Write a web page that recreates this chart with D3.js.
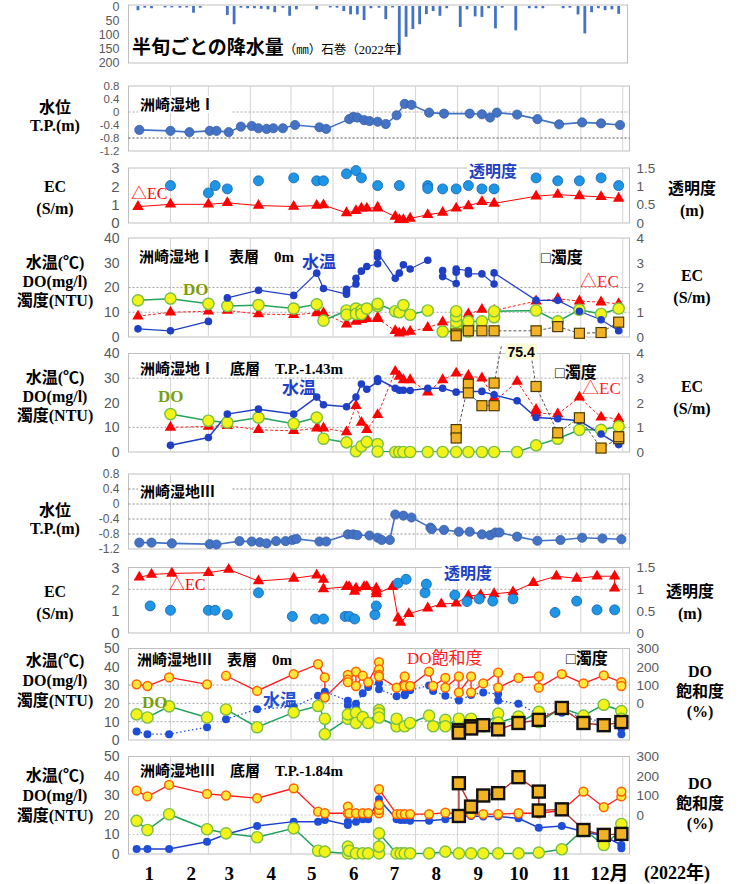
<!DOCTYPE html>
<html><head><meta charset="utf-8">
<script src="https://cdn.jsdelivr.net/npm/d3@7"></script>
<style>body{margin:0;background:#fff}</style>
</head><body>
<svg id="c" width="743" height="884"></svg>
<script>
// ---------- data (2022) ----------
// semi-monthly-ish (半旬, 72 per year) precipitation at Ishinomaki, mm
const rainfall = [0,15,6,8,0,5, 5,6,5,24,6,0, 0,0,32,65,6,8, 8,10,12,22,6,35,
  12,0,0,12,0,5, 6,18,30,30,50,8, 6,47,5,175,110,82, 65,29,18,35,8,0,
  75,12,37,39,8,80, 6,0,87,0,8,8, 8,0,0,8,6,30, 98,22,8,15,12,28];
const rainTicks = [0,50,100,150,200];

// site I
const level1 = [["01-09",-0.55],["02-01",-0.58],["02-15",-0.62],["03-02",-0.58],["03-07",-0.58],["03-16",-0.62],
  ["03-25",-0.45],["04-02",-0.43],["04-07",-0.50],["04-13",-0.52],["04-18",-0.50],["04-25",-0.50],["05-04",-0.40],
  ["05-22",-0.47],["05-27",-0.52],["06-13",-0.22],["06-16",-0.15],["06-19",-0.17],["06-24",-0.25],["06-28",-0.28],
  ["07-04",-0.30],["07-10",-0.37],["07-18",-0.10],["07-24",0.25],["07-29",0.22],["08-11",-0.02],["08-22",-0.05],
  ["09-10",-0.05],["09-19",-0.07],["09-25",-0.17],["09-30",-0.02],["10-15",-0.08],["10-30",-0.22],["11-15",-0.38],
  ["12-02",-0.32],["12-16",-0.35],["12-30",-0.40]];
const ec1 = [["01-08",0.89],["02-01",1.02],["03-01",1.02],["03-15",1.1],["04-07",0.95],["05-03",0.9],["05-20",0.95],
  ["05-25",0.98],["06-11",0.55],["06-18",0.67],["06-22",0.8],["06-26",0.8],["07-04",0.85],["07-04",0.8],["07-17",0.35],
  ["07-20",0.18],["07-23",0.18],["07-28",0.25],["08-10",0.45],["08-21",0.57],["08-31",0.8],["09-09",0.93],["09-19",1.16],
  ["09-28",1.07],["10-29",1.46],["11-14",1.55],["11-30",1.48],["12-16",1.43],["12-29",1.34]];
const transp1 = [["02-01",1.02],["03-01",0.82],["03-06",1.02],["03-15",0.93],["04-07",1.15],["05-03",1.23],["05-20",1.15],
  ["05-25",1.15],["06-11",1.34],["06-18",1.43],["06-22",1.23],["07-04",1.02],["07-20",1.02],["08-10",1.02],["08-10",0.94],
  ["08-21",0.93],["08-31",0.93],["09-09",1.02],["09-19",0.93],["09-28",0.93],["10-29",1.23],["11-14",1.15],["11-30",1.15],
  ["12-16",1.23],["12-29",1.02]];

const temp1s = [["01-08",3.3],["02-01",2.5],["03-01",6.3],null,["03-15",15.8],["04-07",18.9],["05-03",16.8],["05-20",25.8],
  ["05-25",19.6],["06-11",17.3],["06-11",18.4],["06-11",19.3],["06-18",21.4],["06-18",23.7],["06-22",26.6],["06-26",28.5],
  ["07-04",29.6],["07-04",32.3],["07-04",34],["07-17",23.7],["07-20",25.8],["07-23",29.2],["07-28",27.5],["08-10",31],null,
  ["08-21",26.8],["08-21",24.4],["08-31",21.6],["08-31",26.2],["08-31",27.5],["09-09",26.8],["09-09",25.5],["09-19",25.5],
  ["09-28",21.4],["09-28",25.9],["10-29",14.8],["11-14",14.8],["11-30",10.4],["12-16",7],["12-29",2.5]];
const do1s = [["01-08",14.8],["02-01",15.5],["03-01",13.4],null,["03-15",12.5],["04-07",12.9],["05-03",11.5],["05-20",13.2],
  ["05-25",6.6],["06-11",10.7],["06-11",9.0],["06-18",11.5],["06-18",9.3],["06-22",10.7],["06-22",9.3],["06-26",11.5],
  ["07-04",12.5],["07-04",13.4],["07-17",10.4],["07-20",10],["07-23",12.9],["07-28",9],["08-10",10.7],null,["08-21",2.2],
  ["08-31",2.2],["08-31",3.6],["08-31",6],["08-31",8.4],["08-31",10.4],["09-09",2.2],["09-09",3.2],["09-09",4.5],["09-09",6.3],
  ["09-19",6.3],["09-28",8],["09-28",10.4],["10-29",10.7],["11-14",6.3],["11-30",11],["12-16",9.3],["12-29",11.5]];
const ec1s = [["01-08",0.84],["02-01",1.0],["03-01",1.04],null,["03-15",1.07],["04-07",0.93],["05-03",0.9],["05-20",0.97],
  ["05-25",0.97],["06-11",0.52],["06-18",0.63],["06-22",0.7],["06-26",0.74],["07-04",0.79],["07-04",0.74],["07-17",0.25],
  ["07-20",0.15],["07-23",0.19],["07-28",0.22],["08-10",0.38],["08-21",0.6],["08-31",0.6],["08-31",0.74],["08-31",0.9],
  ["09-09",0.93],["09-19",1.11],["09-28",1.07],["10-29",1.45],["11-14",1.55],["11-30",1.45],["12-16",1.41],["12-29",1.34]];
const turb1s = [["08-31",1.2],["08-31",0.5],["09-09",2.5],["09-19",2.5],["09-28",2.5],["10-29",2.5],["11-14",4.2],
  ["11-30",1.5],["12-16",1.8],["12-29",6.0]];

const temp1b = [["02-01",2.7],["03-01",5.9],["03-15",15.4],["04-07",17.4],["05-03",15.4],["05-20",22.3],["05-25",19.2],
  ["06-11",18.4],["06-18",22.3],["06-22",27.6],["06-26",25.5],["07-04",28.6],["07-04",29.7],["07-17",25.9],["07-20",25.1],
  ["07-23",25.1],["07-28",25],["08-10",25.9],["08-21",25.9],["08-31",24.3],["09-09",24.6],["09-19",24.6],["09-28",23.2],
  ["10-15",20.8],["10-29",14],["11-14",13.5],["11-30",12.7],["12-16",7.3],["12-29",3]];
const do1b = [["02-01",15.4],["03-01",12.7],["03-15",12],["04-07",14],["05-03",11.5],["05-20",14],["05-25",5.4],
  ["06-11",3.9],["06-18",0.3],["06-22",2.3],["06-26",4.1],["07-04",3.2],["07-04",0.2],["07-17",0],["07-20",0],["07-23",0],
  ["07-28",0],["08-10",0],["08-21",0],["08-31",0],["09-09",0],["09-19",0],["09-28",0],["10-15",0],["10-29",2.7],
  ["11-14",5.4],["11-30",9],["12-16",9],["12-29",10.4]];
const ec1b = [["02-01",1.0],["03-01",1.04],["03-15",1.07],["04-07",0.9],["05-03",0.86],["05-20",0.97],["05-25",0.97],
  ["06-11",0.81],["06-18",1.88],["06-22",1.2],["06-26",0.9],["07-04",1.51],["07-17",3.27],["07-20",3.07],["07-23",2.93],
  ["07-28",2.93],["08-10",2.43],["08-21",2.93],["08-31",3.2],["09-09",3.1],["09-19",3.0],["09-28",2.19],["09-28",2.03],
  ["10-15",2.86],["10-29",1.72],["10-29",1.58],["11-14",1.54],["11-30",2.22],["12-16",1.41],["12-29",1.35]];
const turb1b = [["08-31",9.1],["08-31",5.7],["09-09",27.5],["09-09",24],["09-19",18.8],["09-28",18.8],["09-28",28],
  ["10-15",75.4],["10-29",26.6],["11-14",7.8],["11-30",13.9],["12-16",1.6],["12-29",5.4],["12-29",6.2]];

// site III
const level3 = [["01-09",-1.03],["01-18",-1.03],["02-02",-1.05],["03-02",-1.07],["03-07",-1.08],["03-24",-0.99],
  ["04-02",-1.0],["04-08",-1.02],["04-13",-1.05],["04-20",-0.99],["04-27",-0.99],["05-02",-0.96],["05-05",-0.93],
  ["05-22",-1.0],["05-27",-1.0],["06-12",-0.81],["06-16",-0.81],["06-19",-0.83],["06-28",-0.84],["07-04",-0.9],
  ["07-07",-0.96],["07-13",-0.96],["07-17",-0.28],["07-23",-0.31],["07-29",-0.36],["08-12",-0.63],["08-13",-0.67],
  ["08-22",-0.69],["09-02",-0.74],["09-10",-0.74],["09-19",-0.81],["09-25",-0.83],["09-29",-0.76],["10-02",-0.76],
  ["10-15",-0.87],["10-30",-0.98],["11-16",-0.96],["12-02",-0.9],["12-17",-0.92],["12-31",-0.94]];
const ec3 = [["01-09",2.55],["01-18",2.68],["02-02",2.73],["03-01",2.76],["03-16",2.91],["04-07",2.38],["05-03",2.5],
  ["05-20",2.65],["05-25",2.45],["05-25",2.02],["06-11",2.12],["06-13",2.12],["06-17",1.9],["06-18",2.05],["06-24",2.12],
  ["06-26",2.12],["07-03",2.05],["07-03",1.9],["07-03",1.79],["07-15",2.12],["07-19",0.68],["07-21",0.48],["07-27",0.88],
  ["08-10",1.14],["08-20",1.33],["08-31",1.36],["09-09",1.7],["09-18",1.74],["09-28",1.79],["10-12",1.88],["10-27",2.3],
  ["11-13",2.6],["11-28",2.5],["12-13",2.6],["12-26",2.6],["12-26",2.05]];
const transp3 = [["01-17",0.62],["02-01",0.52],["03-01",0.52],["03-06",0.52],["03-15",0.42],["04-07",0.92],["05-02",0.38],
  ["05-19",0.32],["05-25",0.32],["06-10",0.38],["06-13",0.38],["06-17",0.32],["07-02",0.42],["07-03",0.62],["07-19",1.14],
  ["07-25",1.23],["08-08",0.92],["08-09",1.12],["08-30",0.87],["09-08",0.72],["09-17",0.78],["09-27",0.73],["10-12",0.78],
  ["11-12",0.47],["11-28",0.73],["12-13",0.53],["12-26",0.53]];

const temp3s = [["01-07",4.6],["01-15",3.2],["01-31",3.2],["02-28",7],null,["03-14",11.4],["04-06",16.8],["05-03",18.1],
  ["05-21",24.2],["05-26",22.8],["05-26",26.4],["06-12",21.5],["06-12",19],["06-18",17.2],["06-18",19.8],["06-23",25.6],
  ["06-27",29],["07-05",31.2],["07-05",27.7],["07-18",23.9],["07-24",25],["07-24",24.5],["07-28",27.2],["08-11",29.8],
  ["08-14",26.8],["08-23",24.2],["09-02",21.6],["09-11",24.6],["09-20",26],["10-01",25.1],["10-01",21.6],["10-16",19.8],
  ["10-31",14],["11-17",14.9],["12-03",12.8],["12-18",9.3],["12-31",6.3],["12-31",3.2]];
const do3s = [["01-07",14],["01-15",12.3],["01-31",18.4],["02-28",12.3],null,["03-14",16.7],["04-06",7],["05-03",15.1],
  ["05-21",18.6],["05-26",11.6],["05-26",3.2],["06-12",11.6],["06-12",14],["06-18",14.9],["06-18",9.3],["06-23",12.5],
  ["06-27",9.3],["07-05",16.3],["07-05",14.6],["07-05",12.3],["07-18",7.5],["07-18",11.6],["07-24",7.5],["07-28",9.3],
  ["08-11",13.3],["08-14",7.5],["08-23",11],["08-23",7.5],["09-02",11.6],["09-02",6.3],["09-02",4.9],["09-11",11.6],
  ["09-11",6.3],["09-20",7.5],["10-01",14.4],["10-01",9.5],["10-16",12.8],["10-16",9.3],["10-31",15.4],["10-31",9.8],
  ["11-17",17.5],["12-03",13.3],["12-18",19.3],["12-31",15.8],["12-31",11.6]];
const sat3s = [["01-07",104],["01-15",95],["01-31",142],["02-28",104],null,["03-14",151],["04-06",68],["05-03",160],
  ["05-21",214],["05-26",142],["05-26",33],["06-12",156],["06-12",130],["06-12",116],["06-18",174],["06-18",95],
  ["06-23",151],["06-27",116],["07-05",226],["07-05",186],["07-05",156],["07-05",147],["07-18",86],["07-24",147],
  ["07-24",95],["07-28",95],["08-11",174],["08-14",95],["08-23",139],["08-23",86],["09-02",147],["09-02",60],["09-11",147],
  ["09-11",60],["09-20",109],["10-01",168],["10-01",86],["10-16",139],["10-31",147],["10-31",86],["11-17",160],
  ["12-03",109],["12-18",153],["12-31",116],["12-31",95]];
const turb3s = [["09-02",5.3],["09-02",4],["09-11",7.5],["09-11",6.3],["09-20",8.1],["10-01",5.8],["10-16",9.3],
  ["10-31",11],["11-17",17.5],["12-03",9.3],["12-18",8.1],["12-31",9.8]];

const temp3b = [["01-07",2.6],["01-15",2.6],["01-31",2.6],["02-28",6.3],["03-14",10.1],["04-06",14.4],["05-03",16.6],
  ["05-21",16.6],["05-26",17.5],["06-12",14.9],["06-12",16.6],["06-18",16.6],["06-23",17.8],["06-27",17.8],["07-05",28.1],
  ["07-18",17.8],["07-21",17.5],["07-24",17.5],["07-28",17],["08-11",17],["08-23",17.8],["09-02",19.2],["09-11",19.5],
  ["09-20",19.2],["10-01",19.2],["10-16",18.3],["10-31",13.5],["11-17",14.4],["12-03",11.5],["12-18",9.2],["12-31",4.6],
  ["12-31",2.9]];
const do3b = [["01-07",17],["01-15",12.3],["01-31",20.4],["02-28",12.7],["03-14",10.6],["04-06",8.6],["05-03",13.2],
  ["05-21",1.7],["05-26",1.2],["06-12",0.3],["06-12",3.8],["06-13",1.7],["06-18",0.3],["06-23",0.3],["06-27",0.3],
  ["07-05",0.3],["07-05",3.8],["07-05",10.6],["07-18",0.3],["07-21",0.3],["07-24",0.3],["07-28",0.3],["08-11",0.3],
  ["08-23",1.2],["09-02",0.3],["09-11",0.3],["09-20",0.3],["10-01",0.3],["10-16",0.3],["10-31",0.7],["11-17",2.4],
  ["12-03",12.7],["12-18",4.6],["12-31",12.3],["12-31",15.4]];
const sat3b = [["01-07",125],["01-15",95],["01-31",154],["02-28",108],["03-14",100],["04-06",86],["05-03",137],
  ["05-21",17],["05-26",9],["06-12",9],["06-12",43],["06-13",9],["06-18",9],["06-23",9],["06-27",9],["07-05",9],
  ["07-05",26],["07-05",52],["07-05",132],["07-18",5],["07-21",5],["07-24",5],["07-28",5],["08-11",5],["08-23",12],
  ["09-02",5],["09-11",5],["09-20",5],["10-01",5],["10-16",9],["10-31",9],["11-17",23],["12-03",120],["12-18",40],
  ["12-31",95],["12-31",120]];
const turb3b = [["09-02",19.5],["09-02",36.3],["09-11",24.3],["09-20",30],["10-01",31.2],["10-16",39.4],["10-31",32],
  ["10-31",22.3],["11-17",22.9],["12-03",12.3],["12-18",9.8],["12-31",10.3]];

const monthNames = ["1","2","3","4","5","6","7","8","9","10","11","12月"];

// ---------- drawing ----------
const SERIF = "'Liberation Serif','Noto Sans CJK JP',serif";
const SANS = "'Liberation Sans',Arial,'Noto Sans CJK JP',sans-serif";
const svg = d3.select("#c");
const parse = d3.timeParse("%Y-%m-%d");
const dt = md => parse("2022-" + md);
const X0 = 128.5, X1 = 629.5;
const LABX = 55;   // centre of the left-hand axis titles
const x = d3.scaleTime().domain([new Date(2022,0,1), new Date(2023,0,6)]).range([X0, X1]);
const monthStarts = d3.range(1,13).map(m => new Date(2022, m, 1));
let clipN = 0;

function styleAxis(sel, size){
  sel.select(".domain").remove();
  sel.selectAll(".tick line").remove();
  sel.selectAll("text").attr("font-family", SANS).attr("font-size", size).attr("fill", "#595959");
}

function makePanel(o){
  const y = d3.scaleLinear().domain(o.dom).range([o.bottom, o.top]);
  const g = svg.append("g");
  g.append("rect").attr("x", X0).attr("y", o.top).attr("width", X1 - X0).attr("height", o.bottom - o.top)
    .attr("fill", "#fff").attr("stroke", "#bfbfbf");
  g.selectAll(".vg").data(monthStarts).join("line").attr("x1", d => x(d)).attr("x2", d => x(d))
    .attr("y1", o.top).attr("y2", o.bottom).attr("stroke", "#d4d4d4");
  (o.hgrid || []).forEach(h => g.append("line").attr("x1", X0).attr("x2", X1).attr("y1", y(h[0])).attr("y2", y(h[0]))
      .attr("stroke", h[1] || "#a6a6a6").attr("stroke-dasharray", "2,2"));
  const ax = g.append("g").attr("transform", `translate(${X0 - 9},0)`)
    .call(d3.axisLeft(y).tickValues(o.ticks).tickSize(0).tickPadding(0).tickFormat(d => String(d)));
  styleAxis(ax, o.tickSize || 14);
  let y2 = null;
  if (o.dom2){
    y2 = d3.scaleLinear().domain(o.dom2).range([o.bottom, o.top]);
    const ar = g.append("g").attr("transform", `translate(${X1 + 7},0)`)
      .call(d3.axisRight(y2).tickValues(o.ticks2).tickSize(0).tickPadding(0).tickFormat(d => String(d)));
    styleAxis(ar, o.tickSize2 || 14);
  }
  const id = "clip" + (clipN++);
  svg.append("clipPath").attr("id", id).append("rect").attr("x", X0).attr("y", o.top - 8)
    .attr("width", X1 - X0).attr("height", o.bottom - o.top + 8);
  const lines = svg.append("g").attr("clip-path", `url(#${id})`);
  const marks = svg.append("g");
  const labels = svg.append("g");
  return {g, y, y2, lines, marks, labels, top: o.top, bottom: o.bottom, dom: o.dom};
}

function drawLine(p, data, ys, st){
  const ln = d3.line().defined(d => d != null).x(d => x(dt(d[0]))).y(d => ys(d[1]));
  p.lines.append("path").datum(data).attr("d", ln).attr("fill", "none")
    .attr("stroke", st.stroke).attr("stroke-width", st.width || 1.2)
    .attr("stroke-dasharray", st.dash || null);
}
function inRange(p, ys, d){ const v = ys(d[1]); return v >= p.top - 1 && v <= p.bottom + 1; }
function drawDots(p, data, ys, st){
  p.marks.selectAll(null).data(data.filter(d => d && inRange(p, ys, d))).join("circle")
    .attr("cx", d => x(dt(d[0]))).attr("cy", d => ys(d[1])).attr("r", st.r)
    .attr("fill", st.fill).attr("stroke", st.stroke || "none").attr("stroke-width", st.sw || 1);
}
function drawTri(p, data, ys){
  const sym = d3.symbol().type(d3.symbolTriangle).size(56);
  p.marks.selectAll(null).data(data.filter(d => d && inRange(p, ys, d))).join("path")
    .attr("d", sym).attr("transform", d => `translate(${x(dt(d[0]))},${ys(d[1])})`).attr("fill", "#ff0000");
}
function drawSq(p, data, ys, st){
  p.marks.selectAll(null).data(data.filter(d => d && inRange(p, ys, d))).join("rect")
    .attr("x", d => x(dt(d[0])) - st.s/2).attr("y", d => ys(d[1]) - st.s/2).attr("width", st.s).attr("height", st.s)
    .attr("fill", "#f2b224").attr("stroke", st.stroke).attr("stroke-width", st.sw);
}
function txt(sel, s, xx, yy, o){
  return sel.append("text").attr("x", xx).attr("y", yy).text(s)
    .attr("font-family", o.family || SERIF).attr("font-size", o.size || 16)
    .attr("fill", o.fill || "#000").attr("font-weight", o.weight || "normal")
    .attr("text-anchor", o.anchor || "start");
}
function boxText(sel, s, xx, yy, o){
  const t = txt(sel, s, xx, yy, o);
  const b = t.node().getBBox();
  sel.insert("rect", () => t.node()).attr("x", b.x - 2).attr("y", b.y).attr("width", b.width + 4 + (o.extra || 0))
    .attr("height", b.height).attr("fill", o.bg || "#fff");
  return t;
}
function sideLabel(lines, xx, y0, dy, size){
  lines.forEach((s, i) => txt(svg, s, xx, y0 + i * dy, {size: size || 16, weight: "bold", anchor: "middle"}));
}

// marker styles
const DOT_DO = {r: 5.6, fill: "#f3f31a", stroke: "#78c043", sw: 1.4};
const DOT_SAT = {r: 4.4, fill: "#ffe83a", stroke: "#ff6000", sw: 1.5};
const DOT_T1 = {r: 3.8, fill: "#1f3fc6"};
const DOT_TR = {r: 5, fill: "#1e96e6", stroke: "#1960b0", sw: 0.8};
const DOT_LV = {r: 4.6, fill: "#4472c4", stroke: "#3a62aa", sw: 0.8};

// ---- rainfall ----
{
  const top = 6, bottom = 62;
  const y = d3.scaleLinear().domain([0, 200]).range([top, bottom]);
  svg.append("rect").attr("x", X0).attr("y", top - 1).attr("width", X1 - 2 - X0).attr("height", bottom - top + 2)
    .attr("fill", "#fff").attr("stroke", "#bfbfbf");
  const ax = svg.append("g").attr("transform", `translate(${X0 - 9},0)`)
    .call(d3.axisLeft(y).tickValues(rainTicks).tickSize(0).tickPadding(0));
  styleAxis(ax, 12.5);
  const step = 365 / 72;
  svg.append("g").selectAll("rect").data(rainfall).join("rect")
    .attr("x", (d, i) => x(new Date(2022, 0, 1 + i * step + step / 2)) - 1.4).attr("width", 2.8)
    .attr("y", y(0)).attr("height", d => y(Math.min(d, 200)) - y(0)).attr("fill", "#4472c4");
  const t = svg.append("text").attr("x", 132).attr("y", 54).attr("font-family", SERIF);
  t.append("tspan").text("半旬ごとの降水量").attr("font-size", 19).attr("font-weight", "bold");
  t.append("tspan").text("（㎜）石巻（2022年）").attr("font-size", 12.5);
}

// ---- site I water level ----
{
  const p = makePanel({top: 86, bottom: 151, dom: [-1.2, 0.8], ticks: [0.8,0.4,0,-0.4,-0.8,-1.2], tickSize: 11.5,
    hgrid: [[0], [-0.8, "#555"]]});
  boxText(p.labels, "洲崎湿地Ⅰ", 140, 110, {size: 15, weight: "bold", extra: 14});
  drawLine(p, level1, p.y, {stroke: "#4472c4", width: 1.6});
  drawDots(p, level1, p.y, DOT_LV);
  sideLabel(["水位", "T.P.(m)"], LABX, 113, 18, 16);
}
// ---- site I EC / transparency ----
{
  const p = makePanel({top: 168, bottom: 223, dom: [0, 3], ticks: [3,2,1,0], tickSize: 15,
    dom2: [0, 1.5], ticks2: [1.5, 1, 0.5, 0], tickSize2: 13.5});
  boxText(p.labels, "透明度", 469, 177, {size: 16, weight: "bold", fill: "#2040c0"});
  txt(p.labels, "△EC", 131, 199, {size: 16, fill: "#ff0000"});
  drawLine(p, ec1, p.y, {stroke: "#ff0000", width: 1});
  drawTri(p, ec1, p.y);
  drawDots(p, transp1, p.y2, DOT_TR);
  sideLabel(["EC", "(S/m)"], LABX, 192, 22, 16);
  sideLabel(["透明度", "(m)"], 692, 194, 22, 16);
}
// ---- site I surface ----
{
  const p = makePanel({top: 238, bottom: 337, dom: [0, 40], ticks: [40,30,20,10,0], tickSize: 14,
    dom2: [0, 4], ticks2: [4,3,2,1,0], tickSize2: 13.5, hgrid: [[20], [10]]});
  txt(p.labels, "洲崎湿地Ⅰ　表層　0m", 139, 262, {size: 15, weight: "bold"});
  drawLine(p, ec1s, p.y2, {stroke: "#ff2020", width: 1, dash: "3,2"});
  drawLine(p, do1s, p.y, {stroke: "#25a45a", width: 1.5});
  drawLine(p, temp1s, p.y, {stroke: "#1f3fc6", width: 1.2});
  drawLine(p, turb1s, p.y, {stroke: "#555", width: 1, dash: "3,2"});
  drawTri(p, ec1s, p.y2);
  drawDots(p, do1s, p.y, DOT_DO);
  drawDots(p, temp1s, p.y, DOT_T1);
  drawSq(p, turb1s, p.y, {s: 10, stroke: "#4a3a00", sw: 1.2});
  txt(p.labels, "水温", 302, 268, {size: 17, fill: "#1f3fc6", weight: "bold"});
  txt(p.labels, "DO", 183, 295, {size: 17, fill: "#7a9e0a", weight: "bold"});
  txt(p.labels, "□濁度", 541, 263, {size: 16, weight: "bold"});
  txt(p.labels, "△EC", 580, 287, {size: 17, fill: "#ff2020"});
  sideLabel(["水温(℃)", "DO(mg/l)", "濁度(NTU)"], LABX, 268, 19, 16);
  sideLabel(["EC", "(S/m)"], 692, 281, 22, 16);
}
// ---- site I bottom ----
{
  const p = makePanel({top: 353.5, bottom: 452, dom: [0, 40], ticks: [40,30,20,10,0], tickSize: 14,
    dom2: [0, 4], ticks2: [4,3,2,1,0], tickSize2: 13.5, hgrid: [[30], [10]]});
  boxText(p.labels, "洲崎湿地Ⅰ　底層　T.P.-1.43m", 140, 374, {size: 15, weight: "bold"});
  drawLine(p, ec1b, p.y2, {stroke: "#ff2020", width: 1, dash: "3,2"});
  drawLine(p, do1b, p.y, {stroke: "#25a45a", width: 1.5});
  drawLine(p, temp1b, p.y, {stroke: "#1f3fc6", width: 1.5});
  drawLine(p, turb1b, p.y, {stroke: "#555", width: 1, dash: "3,2"});
  drawTri(p, ec1b, p.y2);
  drawDots(p, do1b, p.y, DOT_DO);
  drawDots(p, temp1b, p.y, DOT_T1);
  drawSq(p, turb1b, p.y, {s: 10, stroke: "#4a3a00", sw: 1.2});
  // value that runs off the top of the scale is written at the clipped edge
  turb1b.filter(d => d[1] > p.dom[1]).forEach(d => {
    boxText(p.labels, String(d[1]), x(dt(d[0])) + 4, p.top + 3, {size: 14, weight: "bold", family: SANS,
      anchor: "middle", bg: "#fbfbd6"});
  });
  txt(p.labels, "水温", 282, 394, {size: 17, fill: "#1f3fc6", weight: "bold"});
  txt(p.labels, "DO", 158, 402, {size: 17, fill: "#7a9e0a", weight: "bold"});
  txt(p.labels, "□濁度", 555, 378, {size: 16, weight: "bold"});
  txt(p.labels, "△EC", 582, 394, {size: 17, fill: "#ff2020"});
  sideLabel(["水温(℃)", "DO(mg/l)", "濁度(NTU)"], LABX, 383, 19, 16);
  sideLabel(["EC", "(S/m)"], 692, 392, 22, 16);
}
// ---- site III water level ----
{
  const p = makePanel({top: 474, bottom: 549, dom: [-1.2, 0.8], ticks: [0.8,0.4,0,-0.4,-0.8,-1.2], tickSize: 12,
    hgrid: [[0.4, "#8c8c8c"], [0, "#8c8c8c"], [-0.4, "#8c8c8c"], [-0.8, "#8c8c8c"]]});
  boxText(p.labels, "洲崎湿地Ⅲ", 140, 497, {size: 15, weight: "bold", extra: 14});
  drawLine(p, level3, p.y, {stroke: "#4472c4", width: 1.6});
  drawDots(p, level3, p.y, DOT_LV);
  sideLabel(["水位", "T.P.(m)"], LABX, 516, 18, 16);
}
// ---- site III EC / transparency ----
{
  const p = makePanel({top: 567.5, bottom: 633, dom: [0, 3], ticks: [3,2,1,0], tickSize: 15,
    dom2: [0, 1.5], ticks2: [1.5, 1, 0.5, 0], tickSize2: 13.5, hgrid: [[2]]});
  boxText(p.labels, "透明度", 444, 579, {size: 16, weight: "bold", fill: "#2040c0"});
  txt(p.labels, "△EC", 169, 590, {size: 16, fill: "#ff0000"});
  drawLine(p, ec3, p.y, {stroke: "#ff0000", width: 1});
  drawTri(p, ec3, p.y);
  drawDots(p, transp3, p.y2, DOT_TR);
  sideLabel(["EC", "(S/m)"], LABX, 597, 22, 16);
  sideLabel(["透明度", "(m)"], 690, 597, 22, 16);
}
// ---- site III surface ----
{
  const p = makePanel({top: 648.5, bottom: 740, dom: [0, 50], ticks: [50,40,30,20,10,0], tickSize: 14,
    dom2: [-200, 300], ticks2: [300,200,100,0], tickSize2: 13.5, hgrid: [[30], [20], [10]]});
  txt(p.labels, "洲崎湿地Ⅲ　表層　0m", 137, 665, {size: 15, weight: "bold"});
  drawLine(p, temp3s, p.y, {stroke: "#2050e0", width: 1.3, dash: "1.5,2.5"});
  drawLine(p, sat3s, p.y2, {stroke: "#ff1a1a", width: 1.3});
  drawLine(p, do3s, p.y, {stroke: "#22a060", width: 1.5});
  drawLine(p, turb3s, p.y, {stroke: "#b03030", width: 1.4});
  drawDots(p, temp3s, p.y, {r: 4, fill: "#1f4fd8"});
  drawDots(p, sat3s, p.y2, DOT_SAT);
  drawDots(p, do3s, p.y, DOT_DO);
  drawSq(p, turb3s, p.y, {s: 12, stroke: "#111", sw: 2.4});
  txt(p.labels, "DO飽和度", 407, 664, {size: 17, fill: "#ff2020"});
  txt(p.labels, "□濁度", 566, 664, {size: 16, weight: "bold"});
  txt(p.labels, "水温", 263, 706, {size: 17, fill: "#2050d0", weight: "bold"});
  txt(p.labels, "DO", 142, 708, {size: 17, fill: "#7a9e0a", weight: "bold"});
  sideLabel(["水温(℃)", "DO(mg/l)", "濁度(NTU)"], LABX, 666, 20, 16);
  sideLabel(["DO", "飽和度", "(%)"], 700, 677, 20, 16);
}
// ---- site III bottom ----
{
  const p = makePanel({top: 756.5, bottom: 854, dom: [0, 50], ticks: [50,40,30,20,10,0], tickSize: 14,
    dom2: [-200, 300], ticks2: [300,200,100,0], tickSize2: 13.5, hgrid: [[20, "#c8c8c8"], [10, "#c8c8c8"]]});
  txt(p.labels, "洲崎湿地Ⅲ　底層　T.P.-1.84m", 140, 776, {size: 15, weight: "bold"});
  drawLine(p, temp3b, p.y, {stroke: "#1f3fd0", width: 1.5});
  drawLine(p, sat3b, p.y2, {stroke: "#ff1a1a", width: 1.3});
  drawLine(p, do3b, p.y, {stroke: "#22a060", width: 1.5});
  drawLine(p, turb3b, p.y, {stroke: "#b03030", width: 1.4});
  drawDots(p, temp3b, p.y, {r: 4, fill: "#1f4fd8"});
  drawDots(p, sat3b, p.y2, DOT_SAT);
  drawDots(p, do3b, p.y, DOT_DO);
  drawSq(p, turb3b, p.y, {s: 12, stroke: "#111", sw: 2.4});
  sideLabel(["水温(℃)", "DO(mg/l)", "濁度(NTU)"], LABX, 781, 20, 16);
  sideLabel(["DO", "飽和度", "(%)"], 700, 789, 20, 16);
}

// ---- month axis ----
{
  const mids = d3.range(12).map(m => new Date(2022, m, 16));
  const ax = svg.append("g").attr("transform", "translate(0,863)")
    .call(d3.axisBottom(x).tickValues(mids).tickSize(0).tickPadding(0).tickFormat((d, i) => monthNames[i]));
  ax.select(".domain").remove();
  ax.selectAll("text").attr("font-family", SERIF).attr("font-size", 19).attr("font-weight", "bold").attr("fill", "#000")
    .attr("dy", "0.9em");
  ax.selectAll(".tick").filter((d, i) => i === 11).select("text").attr("dx", 8);
  txt(svg, "(2022年)", 644, 879, {size: 18, weight: "bold"});
}
</script>
</body></html>
